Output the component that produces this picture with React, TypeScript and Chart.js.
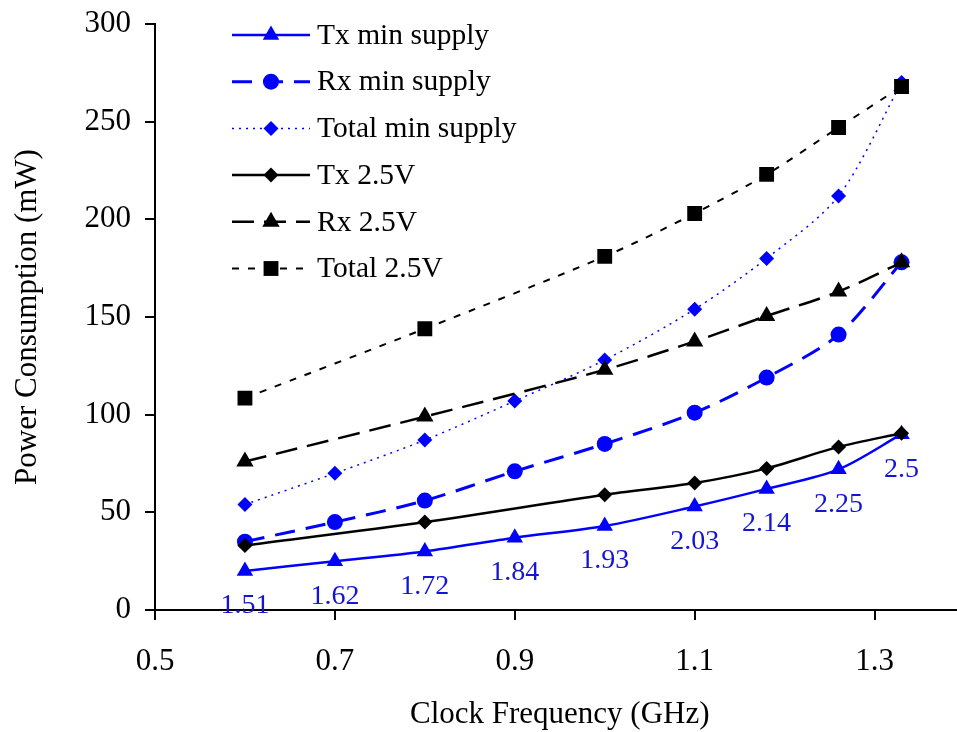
import React, { useEffect, useRef } from 'react';
import { Chart, registerables } from 'chart.js';

Chart.register(...registerables);

const FONT = '"Liberation Serif", "Times New Roman", serif';

const freqMin = [0.6, 0.7, 0.8, 0.9, 1.0, 1.1, 1.18, 1.26, 1.33];
const txMin = [20, 25, 30, 37, 43, 53, 62, 72, 90];
const rxMin = [35, 45, 56, 71, 85, 101, 119, 141, 178];
const totalMin = [54, 70, 87, 107, 128, 154, 180, 212, 270];

const freq25 = [0.6, 0.8, 1.0, 1.1, 1.18, 1.26, 1.33];
const tx25 = [33, 45, 59, 65, 72.5, 83.5, 90.5];
const rx25 = [76, 99, 123, 137.5, 150.5, 163, 178];
const total25 = [108.5, 144, 181, 203, 223, 247, 268];

const supplyLabels = ['1.51', '1.62', '1.72', '1.84', '1.93', '2.03', '2.14', '2.25', '2.5'];
const xTicks = [0.5, 0.7, 0.9, 1.1, 1.3];
const seriesNames = ['Tx min supply', 'Rx min supply', 'Total min supply', 'Tx 2.5V', 'Rx 2.5V', 'Total 2.5V'];

const BLUE = '#0000ff';
const BLACK = '#000000';

const pts = (xs: number[], ys: number[]) => xs.map((x, i) => ({ x, y: ys[i] }));

function drawMarker(ctx: CanvasRenderingContext2D, style: string, x: number, y: number, r: number, color: string) {
  ctx.save();
  ctx.fillStyle = color;
  ctx.setLineDash([]);
  ctx.beginPath();
  if (style === 'triangle') {
    for (let k = 0; k < 3; k++) {
      const a = (k * 2 * Math.PI) / 3;
      const px = x + Math.sin(a) * r;
      const py = y - Math.cos(a) * r;
      if (k === 0) ctx.moveTo(px, py); else ctx.lineTo(px, py);
    }
    ctx.closePath();
  } else if (style === 'circle') {
    ctx.arc(x, y, r, 0, Math.PI * 2);
  } else if (style === 'rectRot') {
    ctx.moveTo(x, y - r);
    ctx.lineTo(x + r, y);
    ctx.lineTo(x, y + r);
    ctx.lineTo(x - r, y);
    ctx.closePath();
  } else {
    const s = r * Math.SQRT1_2;
    ctx.rect(x - s, y - s, 2 * s, 2 * s);
  }
  ctx.fill();
  ctx.restore();
}

const legendPlugin = {
  id: 'customLegend',
  afterDraw(chart: any) {
    const ctx = chart.ctx as CanvasRenderingContext2D;
    const x0 = 232, x1 = 310, xm = 271, tx = 317, y0 = 35, dy = 46.7;
    chart.data.datasets.forEach((ds: any, i: number) => {
      const y = y0 + i * dy;
      ctx.save();
      ctx.strokeStyle = ds.borderColor;
      ctx.lineWidth = ds.borderWidth;
      ctx.setLineDash(ds.borderDash || []);
      ctx.beginPath();
      ctx.moveTo(x0, y);
      ctx.lineTo(x1, y);
      ctx.stroke();
      ctx.restore();
      drawMarker(ctx, ds.pointStyle, xm, y, ds.pointRadius, ds.pointBackgroundColor);
      ctx.save();
      ctx.fillStyle = '#000';
      ctx.font = `29.5px ${FONT}`;
      ctx.textAlign = 'left';
      ctx.textBaseline = 'middle';
      ctx.fillText(seriesNames[i], tx, y + 1);
      ctx.restore();
    });
  },
};

const supplyLabelPlugin = {
  id: 'supplyLabels',
  afterDatasetsDraw(chart: any) {
    const ctx = chart.ctx as CanvasRenderingContext2D;
    const meta = chart.getDatasetMeta(0);
    ctx.save();
    ctx.fillStyle = '#1414d4';
    ctx.font = `28px ${FONT}`;
    ctx.textAlign = 'center';
    ctx.textBaseline = 'middle';
    meta.data.forEach((el: any, i: number) => {
      ctx.fillText(supplyLabels[i], el.x, el.y + 35);
    });
    ctx.restore();
  },
};

export default function App() {
  const ref = useRef<HTMLCanvasElement | null>(null);

  useEffect(() => {
    if (!ref.current) return;
    const common = { fill: false, tension: 0.3, pointBorderWidth: 0 };
    const chart = new Chart(ref.current, {
      type: 'line',
      data: {
        datasets: [
          { ...common, label: seriesNames[0], data: pts(freqMin, txMin), borderColor: BLUE, backgroundColor: BLUE, pointBackgroundColor: BLUE, pointBorderColor: BLUE, borderWidth: 2.5, borderDash: [], pointStyle: 'triangle', pointRadius: 9.5, order: 1 },
          { ...common, label: seriesNames[1], data: pts(freqMin, rxMin), borderColor: BLUE, backgroundColor: BLUE, pointBackgroundColor: BLUE, pointBorderColor: BLUE, borderWidth: 3, borderDash: [20, 11], pointStyle: 'circle', pointRadius: 8, order: 1 },
          { ...common, label: seriesNames[2], data: pts(freqMin, totalMin), borderColor: BLUE, backgroundColor: BLUE, pointBackgroundColor: BLUE, pointBorderColor: BLUE, borderWidth: 1.5, borderDash: [2, 5], pointStyle: 'rectRot', pointRadius: 7.5, order: 1 },
          { ...common, label: seriesNames[3], data: pts(freq25, tx25), borderColor: BLACK, backgroundColor: BLACK, pointBackgroundColor: BLACK, pointBorderColor: BLACK, borderWidth: 2.5, borderDash: [], pointStyle: 'rectRot', pointRadius: 7.5, order: 0 },
          { ...common, label: seriesNames[4], data: pts(freq25, rx25), borderColor: BLACK, backgroundColor: BLACK, pointBackgroundColor: BLACK, pointBorderColor: BLACK, borderWidth: 2.5, borderDash: [22, 10], pointStyle: 'triangle', pointRadius: 10, order: 0 },
          { ...common, label: seriesNames[5], data: pts(freq25, total25), borderColor: BLACK, backgroundColor: BLACK, pointBackgroundColor: BLACK, pointBorderColor: BLACK, borderWidth: 2, borderDash: [7, 9], pointStyle: 'rect', pointRadius: 10.5, order: 0 },
        ] as any,
      },
      options: {
        animation: false,
        responsive: true,
        maintainAspectRatio: false,
        layout: { padding: { top: 24, right: 0, left: 0, bottom: 0 } },
        plugins: { legend: { display: false }, tooltip: { enabled: false } },
        scales: {
          x: {
            type: 'linear',
            min: 0.5,
            max: 1.4,
            afterBuildTicks: (s: any) => { s.ticks = xTicks.map((v) => ({ value: v })); },
            afterFit: (s: any) => { s.height = 122; s.paddingRight = 0; s.paddingLeft = 0; },
            ticks: { color: '#000', font: { family: FONT, size: 31 }, padding: 23, callback: (v: any) => Number(v).toFixed(1) },
            grid: { drawOnChartArea: false, drawTicks: true, tickLength: 10, color: '#000', lineWidth: 2 },
            border: { display: true, color: '#000', width: 2 },
            title: { display: true, text: 'Clock Frequency (GHz)', color: '#000', font: { family: FONT, size: 31, lineHeight: 1.1 }, padding: { top: 0, bottom: 0 } },
          },
          y: {
            type: 'linear',
            min: 0,
            max: 300,
            afterFit: (s: any) => { s.width = 155; s.paddingTop = 0; s.paddingBottom = 0; },
            ticks: { stepSize: 50, color: '#000', font: { family: FONT, size: 31 }, padding: 14 },
            grid: { drawOnChartArea: false, drawTicks: true, tickLength: 10, color: '#000', lineWidth: 2 },
            border: { display: true, color: '#000', width: 2 },
            title: { display: true, text: 'Power Consumption (mW)', color: '#000', font: { family: FONT, size: 31, lineHeight: 1.1 }, padding: { top: 11, bottom: 0 } },
          },
        },
      } as any,
      plugins: [legendPlugin, supplyLabelPlugin],
    });
    return () => chart.destroy();
  }, []);

  return (
    <div style={{ position: 'absolute', left: 0, top: 0, width: 957, height: 732, overflow: 'hidden', background: '#fff' }}>
      <div style={{ position: 'relative', width: 975, height: 732 }}>
        <canvas ref={ref} />
      </div>
    </div>
  );
}
